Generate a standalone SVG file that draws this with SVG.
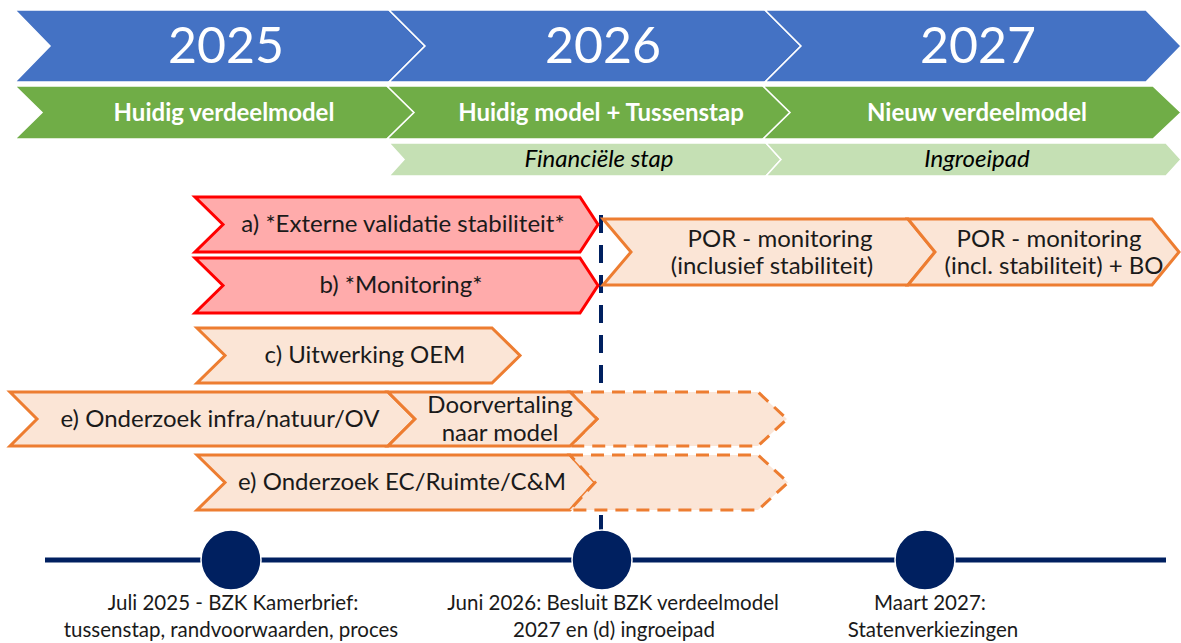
<svg xmlns="http://www.w3.org/2000/svg" width="1181" height="643" viewBox="0 0 1181 643">
<style>
.yr{fill:#4472C4;stroke:#fff;stroke-width:1.5}
.gr{fill:#70AD47;stroke:#fff;stroke-width:1.5}
.lg{fill:#C5E0B4;stroke:#fff;stroke-width:1.5}
.red{fill:#FFABAB;stroke:#FF0000;stroke-width:3;stroke-linejoin:miter}
.pe{fill:#FBE5D6;stroke:#ED7D31;stroke-width:3}
.pd{fill:#FBE5D6;stroke:#ED7D31;stroke-width:3;stroke-dasharray:13 8}
.t{font-family:Lato,"Open Sans",sans-serif;text-anchor:middle}
.ty{font-size:50px;fill:#fff}
.tg{font-size:24px;font-weight:bold;fill:#fff}
.ti{font-size:24px;font-style:italic;fill:#000}
.tb{font-size:24px;fill:#1a1a1a}
.tl{font-size:20.5px;fill:#1a1a1a}
.ms{fill:#002060;stroke:#fff;stroke-width:1.5}
</style>
<rect width="1181" height="643" fill="#fff"/>
<g id="connectors">
<line x1="601" y1="215" x2="601" y2="532" stroke="#002060" stroke-width="4" stroke-dasharray="18 12"/>
<line x1="45" y1="560" x2="1166" y2="560" stroke="#002060" stroke-width="5"/>
</g>
<g id="year-2025"><polygon class="yr" points="15,10 389,10 425,46 389,82 15,82 50,46"/><text class="t ty" x="226" y="63">2025</text></g>
<g id="year-2026"><polygon class="yr" points="389,10 765,10 801,46 765,82 389,82 425,46"/><text class="t ty" x="603" y="63">2026</text></g>
<g id="year-2027"><polygon class="yr" points="765,10 1146,10 1181,46 1146,82 765,82 801,46"/><text class="t ty" x="978" y="63">2027</text></g>
<g id="model-huidig"><polygon class="gr" points="15,86 387,86 414,112.5 387,139 15,139 42,112.5"/><text class="t tg" x="224" y="121">Huidig verdeelmodel</text></g>
<g id="model-tussenstap"><polygon class="gr" points="387,86 763,86 790,112.5 763,139 387,139 414,112.5"/><text class="t tg" x="601" y="121">Huidig model + Tussenstap</text></g>
<g id="model-nieuw"><polygon class="gr" points="763,86 1153,86 1181,112.5 1153,139 763,139 790,112.5"/><text class="t tg" x="977" y="121">Nieuw verdeelmodel</text></g>
<g id="financiele-stap"><polygon class="lg" points="389,143 766,143 781,159.5 766,176 389,176 404,159.5"/><text class="t ti" x="599" y="167">Financiële stap</text></g>
<g id="ingroeipad"><polygon class="lg" points="766,143 1166,143 1181,159.5 1166,176 766,176 781,159.5"/><text class="t ti" x="977" y="167">Ingroeipad</text></g>
<g id="a-externe-validatie"><polygon class="red" points="195,197 580,197 598,224.5 580,252 195,252 223,224.5"/><text class="t tb" x="403" y="232">a) *Externe validatie stabiliteit*</text></g>
<g id="b-monitoring"><polygon class="red" points="195,258 580,258 598,285.5 580,313 195,313 223,285.5"/><text class="t tb" x="401" y="293">b) *Monitoring*</text></g>
<g id="por-1"><polygon class="pe" points="603,219 908,219 935,252 908,285 603,285 631,252"/><text class="t tb" x="780" y="247">POR - monitoring</text><text class="t tb" x="772" y="274">(inclusief stabiliteit)</text></g>
<g id="por-2"><polygon class="pe" points="908,219 1152,219 1179,252 1152,285 908,285 935,252"/><text class="t tb" x="1049" y="247">POR - monitoring</text><text class="t tb" x="1054" y="274">(incl. stabiliteit) + BO</text></g>
<g id="c-uitwerking-oem"><polygon class="pe" points="197,328 492,328 520,355.5 492,383 197,383 225,355.5"/><text class="t tb" x="365" y="363">c) Uitwerking OEM</text></g>
<g id="e-onderzoek-infra"><polygon class="pe" points="10,392 388,392 415,419 388,446 10,446 37,419"/><text class="t tb" x="220" y="427">e) Onderzoek infra/natuur/OV</text></g>
<g id="dashed-1"><polygon class="pd" points="570,392 758,392 787,419 758,446 570,446 597,419"/></g>
<g id="doorvertaling"><polygon class="pe" points="388,392 570,392 597,419 570,446 388,446 415,419"/><text class="t tb" x="500" y="413">Doorvertaling</text><text class="t tb" x="500" y="441">naar model</text></g>
<g id="e-onderzoek-ec"><polygon class="pe" points="197,455 570,455 595,482.5 570,510 197,510 225,482.5"/><text class="t tb" x="402" y="490">e) Onderzoek EC/Ruimte/C&amp;M</text></g>
<g id="dashed-2"><polygon class="pd" points="570,455 758,455 788,482.5 758,510 570,510 595,482.5"/></g>
<g id="milestone-juli-2025"><circle class="ms" cx="231" cy="560" r="30"/><text class="t tl" x="233" y="610">Juli 2025 - BZK Kamerbrief:</text><text class="t tl" x="231" y="637">tussenstap, randvoorwaarden, proces</text></g>
<g id="milestone-juni-2026"><circle class="ms" cx="602" cy="560" r="30"/><text class="t tl" x="613" y="610">Juni 2026: Besluit BZK verdeelmodel</text><text class="t tl" x="614" y="637">2027 en (d) ingroeipad</text></g>
<g id="milestone-maart-2027"><circle class="ms" cx="925" cy="560" r="30"/><text class="t tl" x="930" y="610">Maart 2027:</text><text class="t tl" x="933" y="637">Statenverkiezingen</text></g>
</svg>
